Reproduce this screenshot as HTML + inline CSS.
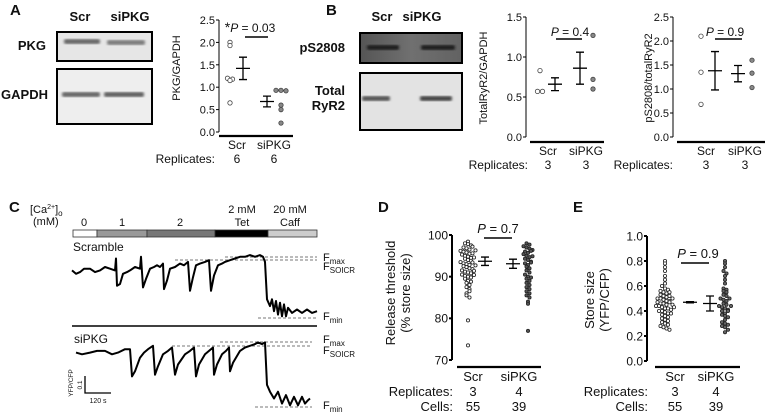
<!DOCTYPE html>
<html><head><meta charset="utf-8">
<style>
html,body{margin:0;padding:0;background:#fff;}
svg{display:block;font-family:"Liberation Sans",Arial,sans-serif;}
text{fill:#111;}
.b{font-weight:bold;}
</style></head>
<body>
<svg id="fig" width="765" height="416" viewBox="0 0 765 416" xmlns="http://www.w3.org/2000/svg">
<defs>
<filter id="blur1"><feGaussianBlur stdDeviation="1.2"/></filter>
<linearGradient id="blotDark" x1="0" y1="0" x2="1" y2="0"><stop offset="0" stop-color="#555"/><stop offset="0.5" stop-color="#707070"/><stop offset="1" stop-color="#626262"/></linearGradient>
</defs>
<text x="10" y="15" font-size="15" class="b">A</text>
<text x="326" y="15" font-size="15" class="b">B</text>
<text x="9" y="212" font-size="15" class="b">C</text>
<text x="378" y="212" font-size="15" class="b">D</text>
<text x="573" y="212" font-size="15" class="b">E</text>

<g>
<text x="80" y="21" font-size="13" class="b" text-anchor="middle">Scr</text>
<text x="130" y="21" font-size="13" class="b" text-anchor="middle">siPKG</text>
<text x="46" y="50" font-size="13" class="b" text-anchor="end">PKG</text>
<text x="48" y="99" font-size="13" class="b" text-anchor="end">GAPDH</text>
<rect x="57" y="32" width="95" height="29" fill="#e6e6e6" stroke="#000" stroke-width="2"/>
<rect x="64" y="39" width="36" height="5" rx="2" fill="#666" filter="url(#blur1)"/>
<rect x="107" y="40" width="38" height="5" rx="2" fill="#7a7a7a" filter="url(#blur1)"/>
<rect x="57" y="69" width="95" height="55" fill="#eeeeee" stroke="#000" stroke-width="2"/>
<rect x="62" y="92" width="38" height="5" rx="2" fill="#666" filter="url(#blur1)"/>
<rect x="104" y="92" width="40" height="5" rx="2" fill="#5f5f5f" filter="url(#blur1)"/>
</g>

<g>
<text x="382" y="21" font-size="13" class="b" text-anchor="middle">Scr</text>
<text x="422" y="21" font-size="13" class="b" text-anchor="middle">siPKG</text>
<text x="345" y="52" font-size="13" class="b" text-anchor="end">pS2808</text>
<text x="345" y="95" font-size="13" class="b" text-anchor="end">Total</text>
<text x="345" y="110" font-size="13" class="b" text-anchor="end">RyR2</text>
<rect x="360" y="33" width="102" height="30" fill="url(#blotDark)" stroke="#000" stroke-width="2"/>
<rect x="367" y="45" width="32" height="5" rx="2" fill="#1a1a1a" filter="url(#blur1)"/>
<rect x="421" y="45" width="34" height="5" rx="2" fill="#1a1a1a" filter="url(#blur1)"/>
<rect x="360" y="73" width="102" height="57" fill="#e3e3e3" stroke="#000" stroke-width="2"/>
<rect x="362" y="96" width="28" height="5" rx="2" fill="#555" filter="url(#blur1)"/>
<rect x="420" y="96" width="32" height="5" rx="2" fill="#444" filter="url(#blur1)"/>
</g>

<g>
<text x="30" y="213" font-size="11">[Ca<tspan font-size="7" dy="-4">2+</tspan><tspan dy="4">]</tspan><tspan font-size="8" dy="3">o</tspan></text>
<text x="33" y="225" font-size="11">(mM)</text>
<text x="84" y="226" font-size="11" text-anchor="middle">0</text>
<text x="122" y="226" font-size="11" text-anchor="middle">1</text>
<text x="180" y="226" font-size="11" text-anchor="middle">2</text>
<text x="242" y="213" font-size="11" text-anchor="middle">2 mM</text>
<text x="242" y="226" font-size="11" text-anchor="middle">Tet</text>
<text x="290" y="213" font-size="11" text-anchor="middle">20 mM</text>
<text x="290" y="226" font-size="11" text-anchor="middle">Caff</text>
<rect x="73" y="230" width="24" height="7" fill="#fff" stroke="#333" stroke-width="0.8"/>
<rect x="97" y="230" width="50" height="7" fill="#999" stroke="#333" stroke-width="0.8"/>
<rect x="147" y="230" width="68" height="7" fill="#777" stroke="#333" stroke-width="0.8"/>
<rect x="215" y="230" width="53" height="7" fill="#000" stroke="#333" stroke-width="0.8"/>
<rect x="268" y="230" width="49" height="7" fill="#ccc" stroke="#333" stroke-width="0.8"/>
<text x="73" y="251" font-size="12">Scramble</text>
<text x="74" y="343" font-size="12">siPKG</text>
<line x1="72" y1="326" x2="317" y2="326" stroke="#000" stroke-width="1.5"/>
<g stroke="#777" stroke-width="1" stroke-dasharray="3,2">
<line x1="225" y1="257" x2="317" y2="257"/>
<line x1="175" y1="260" x2="317" y2="260"/>
<line x1="258" y1="318" x2="317" y2="318"/>
<line x1="220" y1="342" x2="312" y2="342"/>
<line x1="172" y1="346" x2="312" y2="346"/>
<line x1="255" y1="407" x2="312" y2="407"/>
</g>
<text x="323" y="261" font-size="11">F<tspan font-size="8" dy="3">max</tspan></text>
<text x="323" y="270" font-size="11">F<tspan font-size="8" dy="3">SOICR</tspan></text>
<text x="323" y="320" font-size="11">F<tspan font-size="8" dy="3">min</tspan></text>
<text x="323" y="343" font-size="11">F<tspan font-size="8" dy="3">max</tspan></text>
<text x="323" y="354" font-size="11">F<tspan font-size="8" dy="3">SOICR</tspan></text>
<text x="323" y="409" font-size="11">F<tspan font-size="8" dy="3">min</tspan></text>
<path d="M85 376 V393 H111" fill="none" stroke="#000" stroke-width="1.3"/>
<text transform="translate(82,385) rotate(-90)" font-size="6.5" text-anchor="middle">0.1</text>
<text transform="translate(73,383) rotate(-90)" font-size="6.5" text-anchor="middle">YFP/CFP</text>
<text x="98" y="403" font-size="7" text-anchor="middle">120 s</text>
</g>
<g id="dyn"></g>
</svg>
<script>
// ---- Data ----
const groupsAB = ["Scr", "siPKG"];
const pkgScrPoints = [1.15, 1.2, 1.18, 0.65, 2.0, 1.93];
const pkgSiPoints = [0.93, 0.93, 0.92, 0.6, 0.5, 0.2];
const pkgMeans = [1.42, 0.68];
const pkgSem = [0.25, 0.12];
const ryrScrPoints = [0.57, 0.57, 0.83];
const ryrSiPoints = [1.27, 0.72, 0.6];
const ryrMeans = [0.66, 0.86];
const ryrSem = [0.08, 0.2];
const psScrPoints = [2.1, 1.35, 0.68];
const psSiPoints = [1.6, 1.33, 1.03];
const psMeans = [1.38, 1.32];
const psSem = [0.4, 0.17];
const ticksPKG = [0, 0.5, 1.0, 1.5, 2.0, 2.5];
const ticksRyr = [0, 0.5, 1.0, 1.5];
const ticksPs = [0, 0.5, 1.0, 1.5, 2.0, 2.5];
const thrScr = [98,97.8,97.5,97,96.8,96.5,96.2,96,95.8,95.5,95.3,95,94.8,94.5,94.3,94,93.8,93.5,93.2,93,92.8,92.5,92.3,92,91.8,91.5,91.2,91,90.8,90.5,90.2,90,89.8,89.5,89,88.5,88,87.5,87,86,85.5,85,95.6,96.3,97.2,94.6,93.4,92.7,91.4,90.4,88.8,86.5,79.5,73.5,98.4];
const thrSi = [98,97.7,97.3,97,96.7,96.4,96,95.7,95.4,95,94.7,94.3,94,93.6,93.2,92.8,92.4,92,91.5,91,90.5,90,89.8,89.5,89,88.5,88,87.5,87,86.5,86,85.5,85,84,83.5,96.2,94.9,93.4,77];
const thrMeans = [93.7, 93.1];
const thrSem = [1.0, 1.1];
const ticksThr = [70, 80, 90, 100];
const storeScr = [0.8,0.78,0.75,0.72,0.68,0.65,0.62,0.6,0.58,0.57,0.56,0.55,0.54,0.53,0.52,0.51,0.5,0.5,0.49,0.48,0.48,0.47,0.46,0.46,0.45,0.44,0.44,0.43,0.42,0.42,0.41,0.4,0.4,0.39,0.38,0.37,0.36,0.35,0.34,0.33,0.32,0.31,0.3,0.29,0.28,0.27,0.26,0.25,0.55,0.52,0.47,0.43,0.38,0.45,0.5];
const storeSi = [0.8,0.78,0.75,0.72,0.7,0.68,0.65,0.62,0.58,0.57,0.56,0.55,0.53,0.52,0.5,0.49,0.48,0.46,0.45,0.44,0.43,0.42,0.41,0.4,0.38,0.37,0.36,0.35,0.33,0.31,0.3,0.29,0.28,0.27,0.25,0.23,0.5,0.44,0.4];
const storeMeans = [0.47, 0.46];
const storeSem = [0.005, 0.06];
const ticksStore = [0, 0.2, 0.4, 0.6, 0.8, 1.0];
const scrTime = [0,4,8,12,18,23,28,33,38,43,44,45,48,51,55,58,63,68,69,71,74,78,82,85,88,91,92,95,98,103,108,112,116,118,121,124,128,133,137,139,142,146,150,153,158,163,168,173,178,183,188,191,193,195,198,200,202,204,206,208,210,212,214,216,220,225,230,235,240,245];
const scrRatio = [0.78,0.76,0.77,0.79,0.79,0.77,0.78,0.80,0.79,0.78,0.85,0.69,0.70,0.76,0.77,0.78,0.80,0.79,0.86,0.68,0.73,0.79,0.80,0.81,0.80,0.82,0.67,0.72,0.79,0.80,0.82,0.81,0.83,0.66,0.74,0.81,0.82,0.83,0.84,0.66,0.75,0.81,0.82,0.83,0.84,0.85,0.86,0.86,0.87,0.86,0.87,0.86,0.83,0.61,0.57,0.61,0.54,0.60,0.52,0.59,0.51,0.58,0.51,0.56,0.53,0.55,0.53,0.55,0.53,0.54];
const siTime = [4,10,18,25,33,40,46,53,58,60,63,68,72,76,81,83,86,91,96,100,103,106,113,118,122,124,127,133,137,141,142,145,150,154,157,158,161,168,173,178,183,186,190,193,195,198,202,206,210,214,218,222,226,230,233,236,238];
const siRatio = [0.82,0.81,0.82,0.83,0.83,0.81,0.82,0.84,0.84,0.68,0.71,0.79,0.82,0.84,0.86,0.69,0.74,0.81,0.83,0.85,0.69,0.75,0.81,0.83,0.85,0.68,0.75,0.81,0.83,0.85,0.69,0.75,0.81,0.83,0.85,0.71,0.76,0.83,0.85,0.86,0.87,0.88,0.87,0.88,0.63,0.59,0.55,0.59,0.52,0.57,0.51,0.56,0.51,0.56,0.52,0.54,0.55];

const NS = "http://www.w3.org/2000/svg";
const root = document.getElementById("dyn");
function mk(tag, attrs, parent) {
  const el = document.createElementNS(NS, tag);
  for (const k in attrs) el.setAttribute(k, attrs[k]);
  (parent || root).appendChild(el);
  return el;
}
function txt(el, s) { el.textContent = s; return el; }

function scatterChart(c) {
  const g = mk("g", {});
  
  
  const y = v => c.y0 + (v - c.vmin) / (c.vmax - c.vmin) * (c.y1 - c.y0);
  const ax = mk("line", {x1: c.ax, x2: c.ax, y1: y(c.vmin), y2: y(c.vmax), stroke: "#000", "stroke-width": c.aw}, g);
  
  
  c.ticks.forEach(t => {
    const tk = mk("line", {x1: c.ax - 3, x2: c.ax, y1: y(t), y2: y(t), stroke: "#000", "stroke-width": c.aw}, g);
    
    
    const lb = txt(mk("text", {x: c.ax - 4, y: y(t) + c.fs * 0.36, "font-size": c.fs, "text-anchor": "end"}, g), c.fmt(t));
    
    
  });
  const base = mk("line", {x1: c.bx0, x2: c.bx1, y1: c.by, y2: c.by, stroke: "#000", "stroke-width": 2.2}, g);
  
  
  c.title.forEach((tl, i) => {
    const tt = txt(mk("text", {transform: `translate(${c.tx[i]},${c.ty}) rotate(-90)`, "font-size": c.tfs, "text-anchor": "middle"}, g), tl);
    
    
  });
  groupsAB.forEach((gname, i) => {
    const gl = txt(mk("text", {x: c.gx[i], y: c.by + c.fs + 2, "font-size": c.fs + 1, "text-anchor": "middle"}, g), gname);
    
    
  });
  c.rows.forEach((row, r) => {
    const ry = c.by + c.fs + 2 + (r + 1) * (c.fs + 3);
    const rl = txt(mk("text", {x: c.rx, y: ry, "font-size": c.fs + 1, "text-anchor": "end"}, g), row[0]);
    
    
    [1, 2].forEach(k => {
      const rv = txt(mk("text", {x: c.gx[k - 1], y: ry, "font-size": c.fs + 1, "text-anchor": "middle"}, g), row[k]);
      
      
    });
  });
  [c.p0, c.p1].forEach((pts, gi) => {
    const bins = {};
    pts.forEach(v => { const b = Math.round(y(v) / c.bin); (bins[b] = bins[b] || []).push(v); });
    Object.keys(bins).forEach(b => {
      const arr = bins[b];
      arr.forEach((v, j) => {
        const off = (j - (arr.length - 1) / 2) * c.sp;
        const p = mk("circle", {cx: c.px[gi] + off, cy: y(v), r: c.r, fill: gi ? c.fill : "#fff", stroke: c.stroke, "stroke-width": 0.8}, g);
        
        
      });
    });
  });
  c.means.forEach((m, i) => {
    const mx = c.mx[i];
    const mb = mk("path", {d: `M${mx - 7} ${y(m)}H${mx + 7}M${mx} ${y(m - c.sem[i])}V${y(m + c.sem[i])}M${mx - 4} ${y(m - c.sem[i])}H${mx + 4}M${mx - 4} ${y(m + c.sem[i])}H${mx + 4}`, stroke: "#000", "stroke-width": 1.3, fill: "none"}, g);
    
    
  });
  const pl = mk("line", {x1: c.pl[0], x2: c.pl[1], y1: c.pl[2], y2: c.pl[2], stroke: "#000", "stroke-width": 1.5}, g);
  
  
  const pt = mk("text", {x: c.pt[0], y: c.pt[1], "font-size": c.fs + 1, "text-anchor": "middle"}, g);
  pt.innerHTML = c.ptxt;
  
  
}
const f1 = t => t.toFixed(1);
scatterChart({name: "chart-pkg-gapdh", vmin: 0, vmax: 2.5, y0: 132, y1: 20, ax: 219, aw: 1, ticks: ticksPKG, fmt: f1, fs: 11, tfs: 11,
  bx0: 219, bx1: 293, by: 136, title: ["PKG/GAPDH"], tx: [180], ty: 68, gx: [237, 274], rows: [["Replicates:", "6", "6"]], rx: 215,
  p0: pkgScrPoints, p1: pkgSiPoints, px: [230, 281], bin: 3, sp: 5, r: 2.2, fill: "#888", stroke: "#444",
  means: pkgMeans, sem: pkgSem, mx: [243, 267], pl: [245, 268, 37], pt: [250, 32], ptxt: '<tspan font-size="14" dy="0">*</tspan><tspan font-style="italic">P</tspan> = 0.03'});
scatterChart({name: "chart-totalryr2-gapdh", vmin: 0, vmax: 1.5, y0: 137, y1: 17, ax: 526, aw: 1, ticks: ticksRyr, fmt: f1, fs: 11, tfs: 11,
  bx0: 530, bx1: 604, by: 142, title: ["TotalRyR2/GAPDH"], tx: [487], ty: 78, gx: [548, 586], rows: [["Replicates:", "3", "3"]], rx: 528,
  p0: ryrScrPoints, p1: ryrSiPoints, px: [540, 593], bin: 3, sp: 5, r: 2.2, fill: "#888", stroke: "#444",
  means: ryrMeans, sem: ryrSem, mx: [555, 580], pl: [556, 582, 39], pt: [570, 36], ptxt: '<tspan font-style="italic">P</tspan> = 0.4'});
scatterChart({name: "chart-ps2808-totalryr2", vmin: 0, vmax: 2.5, y0: 137, y1: 17, ax: 673, aw: 1, ticks: ticksPs, fmt: f1, fs: 11, tfs: 11,
  bx0: 677, bx1: 765, by: 142, title: ["pS2808/totalRyR2"], tx: [652], ty: 78, gx: [706, 745], rows: [["Replicates:", "3", "3"]], rx: 673,
  p0: psScrPoints, p1: psSiPoints, px: [701, 752], bin: 3, sp: 5, r: 2.2, fill: "#888", stroke: "#444",
  means: psMeans, sem: psSem, mx: [715, 738], pl: [715, 742, 39], pt: [725, 36], ptxt: '<tspan font-style="italic">P</tspan> = 0.9'});
scatterChart({name: "chart-release-threshold", vmin: 70, vmax: 100, y0: 360, y1: 235, ax: 452, aw: 2, ticks: ticksThr, fmt: t => String(t), fs: 12, tfs: 13,
  bx0: 457, bx1: 541, by: 367, title: ["Release threshold", "(% store size)"], tx: [395, 410], ty: 293, gx: [473, 519], rows: [["Replicates:", "3", "4"], ["Cells:", "55", "39"]], rx: 453,
  p0: thrScr, p1: thrSi, px: [468, 528], bin: 4, sp: 3, r: 1.6, fill: "#555", stroke: "#222",
  means: thrMeans, sem: thrSem, mx: [485, 513], pl: [484, 512, 238], pt: [498, 233], ptxt: '<tspan font-style="italic">P</tspan> = 0.7'});
scatterChart({name: "chart-store-size", vmin: 0, vmax: 1.0, y0: 361, y1: 236, ax: 647, aw: 2, ticks: ticksStore, fmt: f1, fs: 12, tfs: 13,
  bx0: 655, bx1: 740, by: 367, title: ["Store size", "(YFP/CFP)"], tx: [594, 609], ty: 300, gx: [675, 716], rows: [["Replicates:", "3", "4"], ["Cells:", "55", "39"]], rx: 648,
  p0: storeScr, p1: storeSi, px: [665, 725], bin: 4, sp: 3, r: 1.6, fill: "#666", stroke: "#222",
  means: storeMeans, sem: storeSem, mx: [690, 710], pl: [681, 709, 263], pt: [698, 258], ptxt: '<tspan font-style="italic">P</tspan> = 0.9'});

function trace(times, ratios, x0, yMin, name) {
  const xs = t => x0 + t;
  const ys = r => yMin - (r - 0.5) * 170;
  const d = times.map((t, i) => (i ? "L" : "M") + xs(t).toFixed(1) + " " + ys(ratios[i]).toFixed(1)).join("");
  const p = mk("path", {d: d, fill: "none", stroke: "#000", "stroke-width": 2, "stroke-linejoin": "round"});
  
  
}
trace(scrTime, scrRatio, 72, 318, "scramble-trace");
trace(siTime, siRatio, 72, 407, "sipkg-trace");
</script>
</body></html>
